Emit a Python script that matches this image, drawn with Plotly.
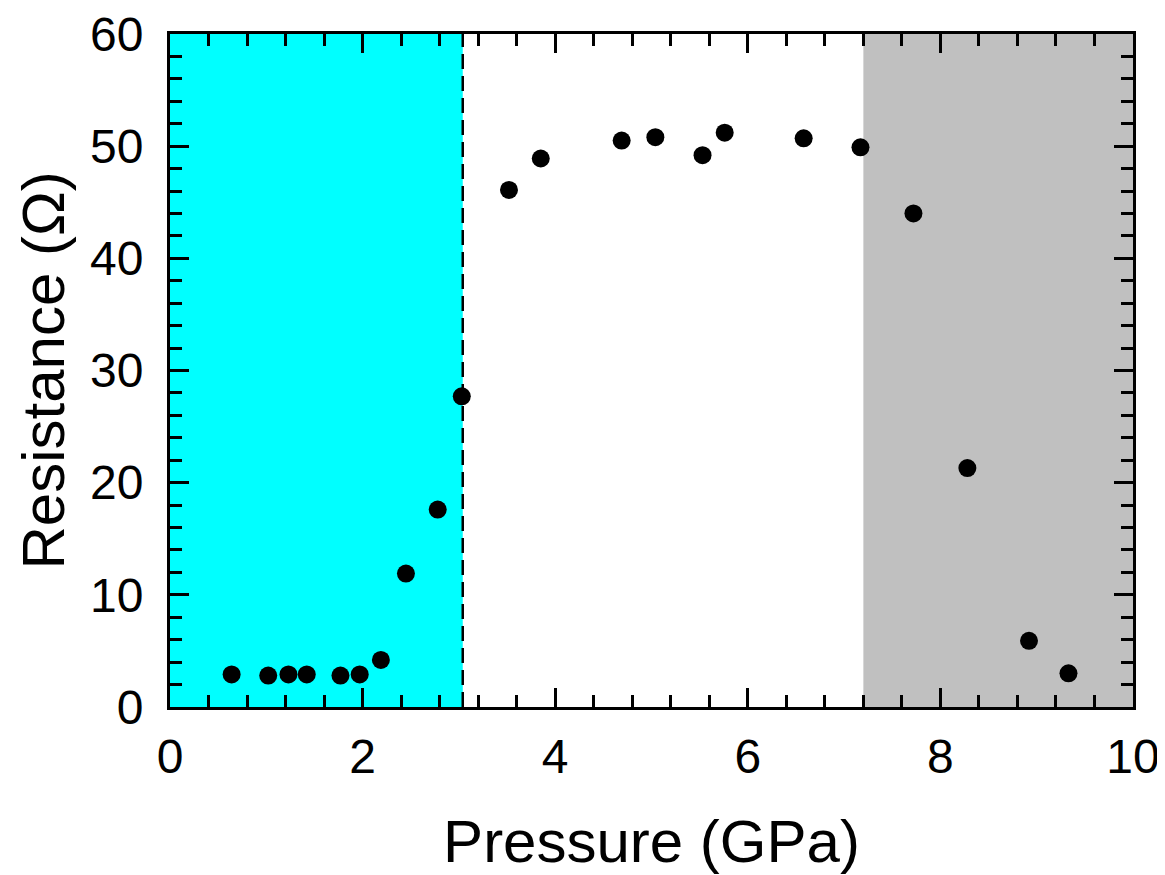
import plotly.graph_objects as go

pressure = [0.64, 1.02, 1.23, 1.42, 1.77, 1.97, 2.19, 2.45, 2.78, 3.03,
            3.52, 3.85, 4.69, 5.04, 5.53, 5.76, 6.58, 7.17, 7.72, 8.28, 8.92, 9.33]
resistance = [2.9, 2.8, 2.9, 2.9, 2.8, 2.9, 4.2, 11.9, 17.6, 27.7,
              46.1, 48.9, 50.5, 50.8, 49.2, 51.2, 50.7, 49.9, 44.0, 21.3, 5.9, 3.0]

cyan_region = (0, 3.04)
gray_region = (7.2, 10)
boundary = 3.04

fig = go.Figure()
fig.add_trace(go.Scatter(x=pressure, y=resistance, mode="markers",
                         marker=dict(size=18, color="black"), showlegend=False))

fig.add_shape(type="rect", xref="x", yref="y", x0=cyan_region[0], x1=cyan_region[1],
              y0=0, y1=60, fillcolor="#00FFFF", line_width=0, layer="below")
fig.add_shape(type="rect", xref="x", yref="y", x0=gray_region[0], x1=gray_region[1],
              y0=0, y1=60, fillcolor="#C0C0C0", line_width=0, layer="below")
fig.add_shape(type="line", xref="x", yref="y", x0=boundary, x1=boundary, y0=0, y1=60,
              line=dict(color="black", width=2.5, dash="15px,7px"))

axis_common = dict(showgrid=False, zeroline=False, showline=True, linecolor="black",
                   linewidth=3, mirror="ticks", ticks="inside", ticklen=19,
                   tickwidth=2.5, tickcolor="black", automargin=False,
                   ticklabeloverflow="allow",
                   tickfont=dict(family="Liberation Sans, Arial", size=48, color="black"))

fig.update_xaxes(range=[0, 10], dtick=2, tick0=0,
                 minor=dict(dtick=0.4, ticks="inside", ticklen=12, tickwidth=2.5, tickcolor="black"),
                 title=dict(text="Pressure (GPa)", standoff=49,
                            font=dict(family="Liberation Sans, Arial", size=60, color="black")),
                 ticklabelstandoff=5,
                 **axis_common)
fig.update_yaxes(range=[0, 60], dtick=10, tick0=0,
                 minor=dict(dtick=2, ticks="inside", ticklen=12, tickwidth=2.5, tickcolor="black"),
                 ticklabelstandoff=14,
                 **axis_common)

fig.add_annotation(text="Resistance (Ω)", xref="paper", yref="paper", x=0, y=0.5,
                   xanchor="center", yanchor="middle", xshift=-127, textangle=-90,
                   showarrow=False,
                   font=dict(family="Liberation Sans, Arial", size=60, color="black"))

fig.update_layout(width=1157, height=867, plot_bgcolor="white", paper_bgcolor="white",
                  margin=dict(l=162, r=32, t=26, b=168))

fig.write_html("out.html")
